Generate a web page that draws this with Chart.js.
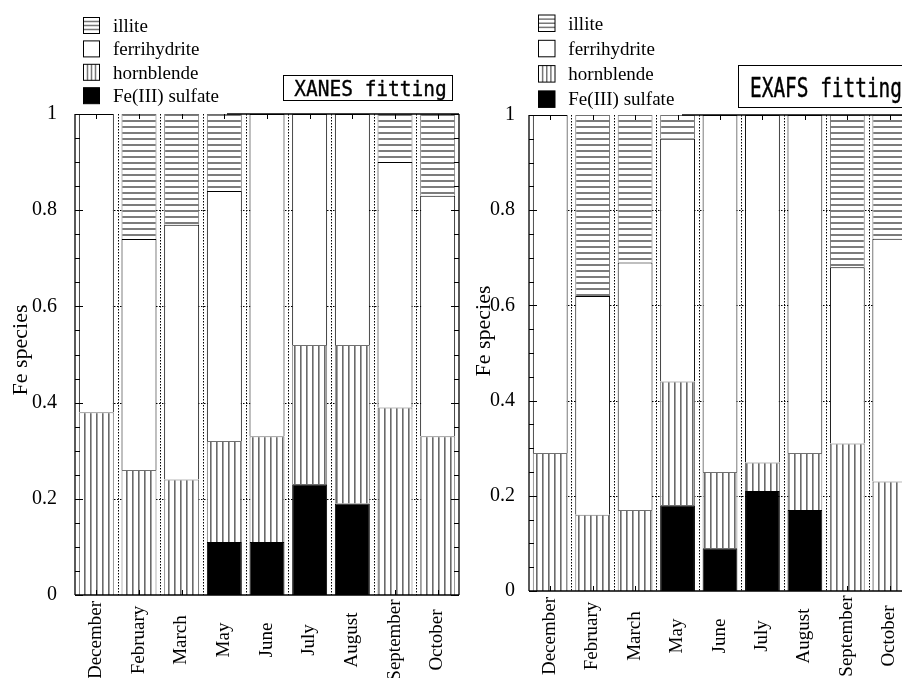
<!DOCTYPE html>
<html>
<head>
<meta charset="utf-8">
<script src="https://cdn.jsdelivr.net/npm/chart.js@4.4.1/dist/chart.umd.min.js"></script>
<style>
  html, body { margin: 0; padding: 0; background: #fff; overflow: hidden; width: 902px; height: 678px; }
  #wrap { position: relative; width: 902px; height: 678px; overflow: hidden; background: #fff; }
  canvas { position: absolute; top: 0; }
  #xanes { left: 0; }
  #exafs { left: 470px; }
</style>
</head>
<body>
<div id="wrap">
  <canvas id="xanes" width="470" height="678"></canvas>
  <canvas id="exafs" width="460" height="678"></canvas>
</div>
<script>
// Sampling months
const months = ['December', 'February', 'March', 'May', 'June', 'July', 'August', 'September', 'October'];

// Fe species fractions from linear-combination fitting of XANES spectra
const xanesSulfate      = [0, 0, 0, 0.11, 0.11, 0.23, 0.19, 0, 0];
const xanesHornblende   = [0.38, 0.26, 0.24, 0.21, 0.22, 0.29, 0.33, 0.39, 0.33];
const xanesFerrihydrite = [0.62, 0.48, 0.53, 0.52, 0.67, 0.48, 0.48, 0.51, 0.50];
const xanesIllite       = [0, 0.26, 0.23, 0.16, 0, 0, 0, 0.10, 0.17];

// Fe species fractions from linear-combination fitting of EXAFS spectra
const exafsSulfate      = [0, 0, 0, 0.18, 0.09, 0.21, 0.17, 0, 0];
const exafsHornblende   = [0.29, 0.16, 0.17, 0.26, 0.16, 0.06, 0.12, 0.31, 0.23];
const exafsFerrihydrite = [0.71, 0.46, 0.52, 0.51, 0.75, 0.73, 0.71, 0.37, 0.51];
const exafsIllite       = [0, 0.38, 0.31, 0.05, 0, 0, 0, 0.32, 0.26];

// Species names (stack order, bottom to top) and y-axis ticks
const speciesNames = ['Fe(III) sulfate', 'hornblende', 'ferrihydrite', 'illite'];
const yTicks = [0, 0.2, 0.4, 0.6, 0.8, 1];

const SERIF = '"Liberation Serif", "Times New Roman", serif';

// Hatch fills: vertical lines for hornblende, horizontal lines for illite
function makePattern(dir) {
  const c = document.createElement('canvas');
  c.width = 6; c.height = 6;
  const g = c.getContext('2d');
  g.fillStyle = '#fff';
  g.fillRect(0, 0, 6, 6);
  if (dir === 'v') {
    g.fillStyle = '#6a6a6a'; g.fillRect(0, 0, 1, 6);
    g.fillStyle = '#a4a4a4'; g.fillRect(1, 0, 1, 6);
  } else {
    g.fillStyle = '#7c7c7c'; g.fillRect(0, 0, 6, 2);
  }
  return g.createPattern(c, 'repeat');
}
const vPattern = makePattern('v');
const hPattern = makePattern('h');

const fills   = ['#000', vPattern, '#fff', hPattern];
const borders = ['#000', '#707070', '#000', '#707070'];

function line(ctx, x1, y1, x2, y2) {
  ctx.beginPath(); ctx.moveTo(x1, y1); ctx.lineTo(x2, y2); ctx.stroke();
}

// Frame, ticks, rotated month labels, axis title, legend and title box
const decor = {
  id: 'decor',
  beforeDatasetsDraw(chart, args, o) {
    const { ctx, chartArea: a, scales: { x, y } } = chart;
    ctx.save();
    ctx.strokeStyle = '#000';
    ctx.lineWidth = 1;
    ctx.setLineDash([1.5, 1.5]);
    const n = chart.data.labels.length;
    for (let k = 1; k < n; k++) {
      const px = Math.round((x.getPixelForValue(k - 1) + x.getPixelForValue(k)) / 2) + 0.5;
      line(ctx, px, a.top, px, a.bottom);
    }
    yTicks.slice(1, -1).forEach(v => {
      const py = Math.round(y.getPixelForValue(v)) + 0.5;
      line(ctx, a.left, py, a.right, py);
    });
    ctx.restore();
  },
  afterDatasetsDraw(chart, args, o) {
    const { ctx, chartArea: a, scales: { x, y } } = chart;
    ctx.save();
    ctx.setLineDash([]);
    ctx.strokeStyle = '#000';

    // frame
    ctx.lineWidth = 1.3;
    line(ctx, a.left, a.top, a.left, a.bottom);
    line(ctx, a.right, a.top, a.right, a.bottom);
    line(ctx, a.left, a.bottom, a.right, a.bottom);
    line(ctx, o.frameTopFrom, a.top, a.right, a.top);

    // y ticks (major every 0.2, minor every 0.05), mirrored on the right
    ctx.lineWidth = 1;
    for (let k = 0; k <= 20; k++) {
      const py = Math.round(y.getPixelForValue(k / 20)) + 0.5;
      const len = (k % 4 === 0) ? 8 : 5;
      line(ctx, a.left, py, a.left + len, py);
      line(ctx, a.right, py, a.right - len, py);
    }
    // x ticks at category centres, top and bottom
    chart.data.labels.forEach((lab, k) => {
      const px = Math.round(x.getPixelForValue(k)) + 0.5;
      line(ctx, px, a.top, px, a.top + 5);
      line(ctx, px, a.bottom, px, a.bottom - 5);
    });

    // month labels, rotated and centred
    ctx.fillStyle = '#000';
    ctx.font = '19px ' + SERIF;
    ctx.textAlign = 'center';
    ctx.textBaseline = 'alphabetic';
    chart.data.labels.forEach((lab, k) => {
      const px = x.getPixelForValue(k);
      ctx.save();
      ctx.translate(px + 4.5, o.labelCenterY);
      ctx.rotate(-Math.PI / 2);
      ctx.fillText(lab, 0, 0);
      ctx.restore();
    });

    // y axis title
    ctx.font = '22px ' + SERIF;
    ctx.save();
    ctx.translate(o.yTitle.x, o.yTitle.y);
    ctx.rotate(-Math.PI / 2);
    ctx.fillText('Fe species', 0, 0);
    ctx.restore();

    // legend (top of stack first)
    const L = o.legend;
    ctx.textAlign = 'left';
    ctx.font = '19px ' + SERIF;
    const ds = chart.data.datasets.slice().reverse();
    ds.forEach((d, i) => {
      const bx = L.boxX, by = L.top + i * L.step, bw = L.box, bh = L.box;
      ctx.fillStyle = d.label === 'Fe(III) sulfate' ? '#000' : '#fff';
      ctx.fillRect(bx, by, bw, bh);
      ctx.strokeStyle = '#777';
      ctx.lineWidth = 1.5;
      if (d.label === 'illite') {
        for (let q = 1; q <= 3; q++) line(ctx, bx, by + q * bh / 4, bx + bw, by + q * bh / 4);
      } else if (d.label === 'hornblende') {
        for (let q = 1; q <= 3; q++) line(ctx, bx + q * bw / 4, by, bx + q * bw / 4, by + bh);
      }
      ctx.strokeStyle = '#000';
      ctx.lineWidth = 1;
      ctx.strokeRect(bx, by, bw, bh);
      ctx.fillStyle = '#000';
      ctx.fillText(d.label, L.textX, by + 14.5);
    });

    // title box
    const T = o.titleBox;
    ctx.fillStyle = '#fff';
    ctx.fillRect(T.x, T.y, T.w, T.h);
    ctx.strokeStyle = '#000';
    ctx.lineWidth = 1;
    ctx.strokeRect(T.x, T.y, T.w, T.h);
    const fs = 20;
    ctx.font = fs + 'px "DejaVu Sans Mono", monospace';
    const mw = ctx.measureText(T.text).width;
    ctx.save();
    ctx.translate(T.textX, T.baseline);
    ctx.scale(T.textW / mw, T.cap / (0.729 * fs));
    ctx.fillStyle = '#000';
    ctx.strokeStyle = '#000';
    ctx.lineWidth = 0.35;
    ctx.lineJoin = 'round';
    ctx.textAlign = 'left';
    ctx.fillText(T.text, 0, 0);
    ctx.strokeText(T.text, 0, 0);
    ctx.restore();

    ctx.restore();
  }
};

function buildDatasets(series) {
  return series.map((data, i) => ({
    label: speciesNames[i],
    data: data,
    backgroundColor: fills[i],
    borderColor: borders[i],
    borderWidth: 1,
    borderSkipped: 'start',
    barPercentage: 0.82,
    categoryPercentage: 1
  }));
}

function makeChart(p) {
  const a = p.area;
  new Chart(document.getElementById(p.id), {
    type: 'bar',
    data: { labels: months, datasets: buildDatasets(p.series) },
    plugins: [decor],
    options: {
      responsive: false,
      animation: false,
      devicePixelRatio: 1,
      events: [],
      layout: { padding: { left: 0, top: a.top, right: p.canvasW - a.right, bottom: 0 } },
      plugins: {
        legend: { display: false },
        tooltip: { enabled: false },
        title: { display: false },
        decor: p.decor
      },
      scales: {
        x: {
          stacked: true,
          grid: { display: false },
          border: { display: false },
          ticks: { display: false },
          afterFit(s) { s.height = 678 - a.bottom; }
        },
        y: {
          stacked: true,
          min: 0,
          max: 1,
          grid: { display: false },
          border: { display: false },
          afterBuildTicks(s) { s.ticks = yTicks.map(v => ({ value: v })); },
          ticks: {
            padding: p.tickPad,
            color: '#000',
            font: { family: SERIF, size: 20 },
            callback: v => String(+Number(v).toFixed(1))
          },
          afterFit(s) { s.width = a.left; }
        }
      }
    }
  });
}

makeChart({
  id: 'xanes',
  canvasW: 470,
  area: { left: 75, right: 459, top: 114, bottom: 595 },
  tickPad: 10,
  series: [xanesSulfate, xanesHornblende, xanesFerrihydrite, xanesIllite],
  decor: {
    frameTopFrom: 227,
    labelCenterY: 640,
    yTitle: { x: 26.5, y: 350 },
    legend: { boxX: 83.5, textX: 113, top: 17.5, step: 23.4, box: 16 },
    titleBox: { text: 'XANES fitting', x: 283.5, y: 75.5, w: 169, h: 25, textX: 294.3, baseline: 96, textW: 152.4, cap: 15.5 }
  }
});

makeChart({
  id: 'exafs',
  canvasW: 460,
  area: { left: 59, right: 441, top: 115, bottom: 591 },
  tickPad: 6,
  series: [exafsSulfate, exafsHornblende, exafsFerrihydrite, exafsIllite],
  decor: {
    frameTopFrom: 212,
    labelCenterY: 636,
    yTitle: { x: 20, y: 331 },
    legend: { boxX: 68.5, textX: 98.3, top: 15, step: 25.3, box: 16.5 },
    titleBox: { text: 'EXAFS fitting', x: 268.5, y: 65.5, w: 220, h: 42, textX: 280, baseline: 97, textW: 152, cap: 19.5 }
  }
});
</script>
</body>
</html>
